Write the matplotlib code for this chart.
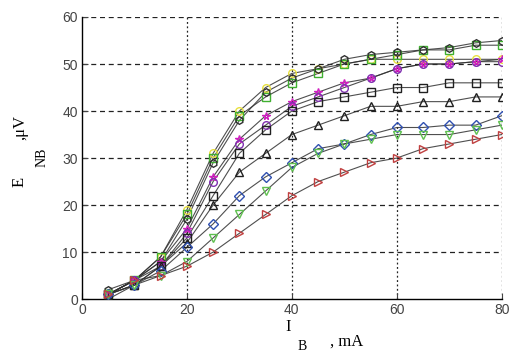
import matplotlib
matplotlib.use("Agg")
import matplotlib.pyplot as plt

x_ma = [5, 10, 15, 20, 25, 30, 35, 40, 45, 50, 55, 60, 65, 70, 75, 80]

s_hexagram = [2, 4, 8, 17, 29, 38, 44, 47, 49, 51, 52, 52.5, 53, 53.5, 54.5, 55]
s_green_sq = [1, 4, 9, 18, 30, 39, 43, 46, 48, 50, 51, 52, 53, 53, 54, 54]
s_yellow = [1, 4, 9, 19, 31, 40, 45, 48, 49, 50, 51, 51, 51, 51, 51, 51]
s_magenta = [1, 4, 8, 15, 26, 34, 39, 42, 44, 46, 47, 49, 50, 50, 50.5, 51]
s_purple = [1, 4, 7, 14, 25, 33, 37, 41, 43, 45, 47, 49, 50, 50, 50.5, 50.5]
s_square = [1, 3, 7, 13, 22, 31, 36, 40, 42, 43, 44, 45, 45, 46, 46, 46]
s_tri_up = [0, 3, 7, 12, 20, 27, 31, 35, 37, 39, 41, 41, 42, 42, 43, 43]
s_diamond = [1, 3, 6, 11, 16, 22, 26, 29, 32, 33, 35, 36.5, 36.5, 37, 37, 39]
s_tri_down = [1, 3, 5, 8, 13, 18, 23, 28, 31, 33, 34, 35, 35, 35, 36, 37]
s_tri_right = [1, 4, 5, 7, 10, 14, 18, 22, 25, 27, 29, 30, 32, 33, 34, 35]

series = [
    (s_yellow, "o", "#e8e040"),
    (s_green_sq, "s", "#40b030"),
    (s_hexagram, "h", "#303030"),
    (s_magenta, "*", "#d020c0"),
    (s_purple, "o", "#8030b0"),
    (s_square, "s", "#202020"),
    (s_tri_up, "^", "#202020"),
    (s_diamond, "D", "#3050b0"),
    (s_tri_down, "v", "#60c050"),
    (s_tri_right, ">", "#c04040"),
]

fig = plt.figure(figsize=(5.12, 3.54), dpi=100)
ax = fig.add_axes([0.160, 0.155, 0.820, 0.797])

for vals, mk, col in series:
    ax.plot(x_ma, vals, color="#303030", lw=0.8, alpha=0.85, zorder=3)
    ax.plot(x_ma, vals, ls="none", marker=mk, ms=5.5, mfc="none", mec=col,
            mew=1.0, zorder=4)

ax.set_xlim(0, 80)
ax.set_ylim(0, 60)
ax.set_xticks([0, 20, 40, 60, 80])
ax.set_yticks(range(0, 61, 10))

for yv in range(10, 61, 10):
    ax.axhline(yv, color="#222222", lw=0.9, ls=(0, (4, 3)), zorder=1)
for xv in [20, 40, 60, 80]:
    ax.axvline(xv, color="#222222", lw=0.9, ls=(0, (1.5, 2)), zorder=1)

for side in ["top", "right"]:
    ax.spines[side].set_visible(False)
ax.spines["left"].set_linewidth(1.0)
ax.spines["bottom"].set_linewidth(1.0)
ax.tick_params(direction="in", length=4, width=0.8, labelsize=10,
               colors="#444444", pad=3)
for lab in ax.get_xticklabels() + ax.get_yticklabels():
    lab.set_fontfamily("Liberation Sans")

serif = "Liberation Serif"
fig.text(20 / 512, 1 - 182 / 354, "E", rotation=90, ha="center", va="center",
         fontsize=12, family=serif)
fig.text(42 / 512, 1 - 157 / 354, "NB", rotation=90, ha="center", va="center",
         fontsize=10, family=serif)
fig.text(20 / 512, 1 - 128 / 354, ",\u03bcV", rotation=90, ha="center",
         va="center", fontsize=12, family=serif)

fig.text(288 / 512, 1 - 327 / 354, "I", ha="center", va="center",
         fontsize=12, family=serif)
fig.text(302 / 512, 1 - 347 / 354, "B", ha="center", va="center",
         fontsize=10, family=serif)
fig.text(347 / 512, 1 - 342 / 354, ", mA", ha="center", va="center",
         fontsize=12, family=serif)

fig.savefig("out.png", dpi=100)
